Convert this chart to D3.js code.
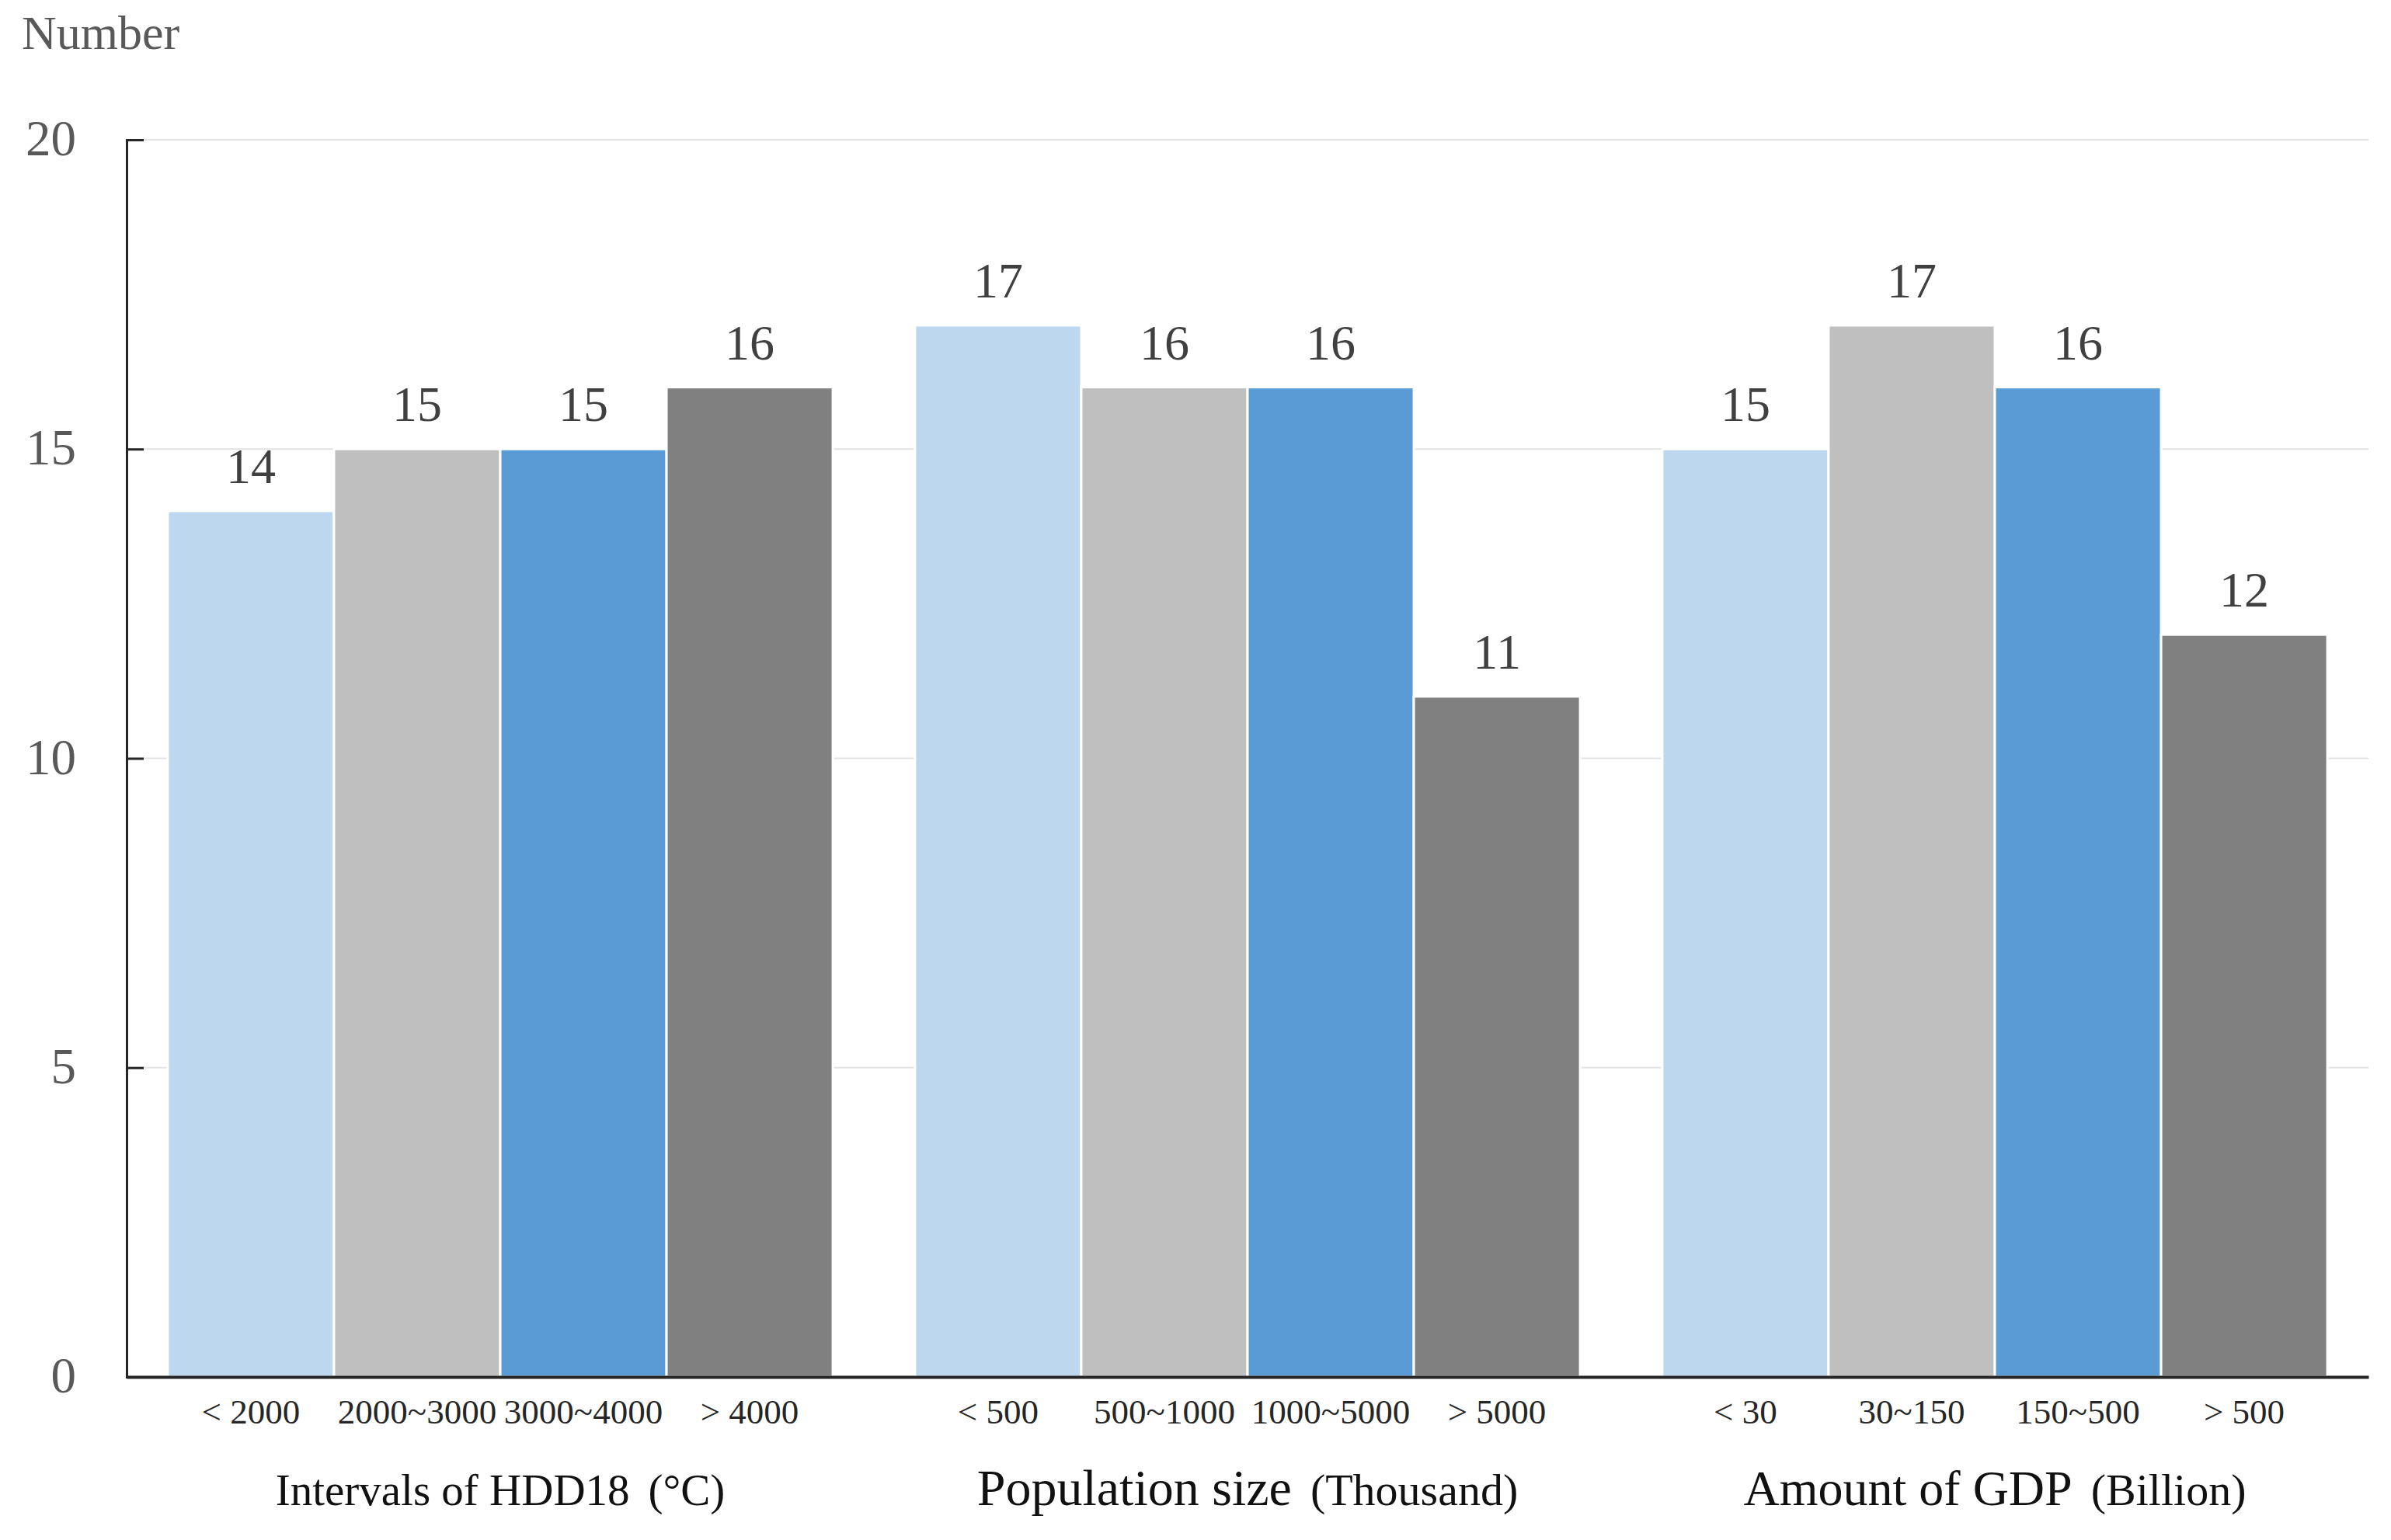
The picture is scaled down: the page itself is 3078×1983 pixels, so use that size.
<!DOCTYPE html>
<html>
<head>
<meta charset="utf-8">
<script src="https://cdn.jsdelivr.net/npm/d3@7"></script>
<style>
  body { margin: 0; background: #fff; }
  svg { display: block; font-family: "Liberation Serif", "DejaVu Serif", serif; }
</style>
</head>
<body>
<svg id="chart"></svg>
<script>
// data
var groups = ["HDD18", "Population", "GDP"];
var classes = ["c1", "c2", "c3", "c4"];
var tickLabels = [
  ["< 2000", "2000~3000", "3000~4000", "> 4000"],
  ["< 500", "500~1000", "1000~5000", "> 5000"],
  ["< 30", "30~150", "150~500", "> 500"]
];
var hddValues = [14, 15, 15, 16];
var popValues = [17, 16, 16, 11];
var gdpValues = [15, 17, 16, 12];
var yTicks = [0, 5, 10, 15, 20];
var barColors = ["#BDD7EE", "#BFBFBF", "#5B9BD5", "#808080"];

var W = 3078, H = 1983;
var margin = {left: 163, right: 29, top: 180, bottom: 210};

var svg = d3.select("#chart").attr("width", W).attr("height", H);

var values = [hddValues, popValues, gdpValues];
var rows = groups.map(function(g, i) {
  return {group: g, labels: tickLabels[i], values: values[i]};
});

var x0 = d3.scaleBand()
  .domain(groups)
  .range([margin.left, W - margin.right])
  .paddingInner(0.11)
  .paddingOuter(0.055);

var x1 = d3.scaleBand()
  .domain(classes)
  .range([0, x0.bandwidth()]);

var y = d3.scaleLinear()
  .domain([0, 20])
  .range([H - margin.bottom, margin.top]);

// gridlines
svg.append("g")
  .selectAll("line")
  .data(yTicks.filter(function(d) { return d > 0; }))
  .enter().append("line")
    .attr("x1", margin.left)
    .attr("x2", W - margin.right)
    .attr("y1", function(d) { return y(d); })
    .attr("y2", function(d) { return y(d); })
    .attr("stroke", "#e3e3e3")
    .attr("stroke-width", 2);

// bars
var grp = svg.append("g")
  .selectAll("g")
  .data(rows)
  .enter().append("g")
    .attr("transform", function(d) { return "translate(" + x0(d.group) + ",0)"; });

grp.selectAll("rect")
  .data(function(d) { return d.values.map(function(v, i) { return {k: classes[i], v: v, i: i}; }); })
  .enter().append("rect")
    .attr("x", function(d) { return x1(d.k); })
    .attr("width", x1.bandwidth())
    .attr("y", function(d) { return y(d.v); })
    .attr("height", function(d) { return y(0) - y(d.v); })
    .attr("fill", function(d) { return barColors[d.i]; })
    .attr("stroke", "#fff")
    .attr("stroke-width", 3);

// value labels
grp.selectAll("text.val")
  .data(function(d) { return d.values.map(function(v, i) { return {k: classes[i], v: v}; }); })
  .enter().append("text")
    .attr("class", "val")
    .attr("x", function(d) { return x1(d.k) + x1.bandwidth() / 2; })
    .attr("y", function(d) { return y(d.v) - 36; })
    .attr("text-anchor", "middle")
    .attr("font-size", 64)
    .attr("fill", "#404040")
    .text(function(d) { return d.v; });

// category tick labels
grp.selectAll("text.cat")
  .data(function(d) { return d.labels.map(function(l, i) { return {k: classes[i], l: l}; }); })
  .enter().append("text")
    .attr("class", "cat")
    .attr("x", function(d) { return x1(d.k) + x1.bandwidth() / 2; })
    .attr("y", y(0) + 60)
    .attr("text-anchor", "middle")
    .attr("font-size", 45)
    .attr("fill", "#262626")
    .text(function(d) { return d.l; });

// y axis
var yAxis = svg.append("g")
  .attr("transform", "translate(" + margin.left + ",0)")
  .call(d3.axisLeft(y).tickValues(yTicks).tickSize(-22).tickSizeOuter(-22).tickPadding(65));
yAxis.select(".domain").attr("stroke", "#262626").attr("stroke-width", 3);
yAxis.selectAll(".tick line").attr("stroke", "#262626").attr("stroke-width", 3);
yAxis.selectAll(".tick text")
  .attr("font-family", "Liberation Serif, serif")
  .attr("font-size", 65)
  .attr("fill", "#595959")
  .attr("dy", "0.3em");

// x axis line
var xAxis = svg.append("g")
  .attr("transform", "translate(0," + y(0) + ")")
  .call(d3.axisBottom(x0).tickSize(0).tickSizeOuter(0).tickFormat(""));
xAxis.select(".domain").attr("stroke", "#262626").attr("stroke-width", 4);

// group titles
var titles = [
  [{t: "Intervals of HDD18", s: 57}, {t: "(°C)", s: 57, dx: 24}],
  [{t: "Population size", s: 66}, {t: "(Thousand)", s: 58, dx: 24}],
  [{t: "Amount of GDP", s: 64}, {t: "(Billion)", s: 58, dx: 24}]
];
svg.append("g")
  .selectAll("text")
  .data(groups)
  .enter().append("text")
    .attr("x", function(d) { return x0(d) + x0.bandwidth() / 2; })
    .attr("y", 1938)
    .attr("text-anchor", "middle")
    .attr("fill", "#111")
    .each(function(d, i) {
      var t = d3.select(this);
      titles[i].forEach(function(p) {
        t.append("tspan").attr("font-size", p.s).attr("dx", p.dx || 0).text(p.t);
      });
    });

// y title
svg.append("text")
  .attr("x", 28)
  .attr("y", 63)
  .attr("font-size", 62)
  .attr("fill", "#595959")
  .text("Number");
</script>
</body>
</html>
